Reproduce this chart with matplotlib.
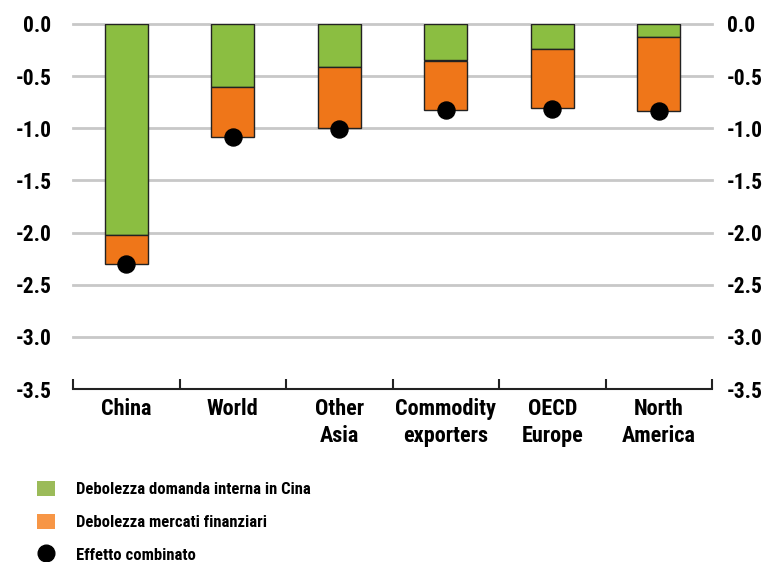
import matplotlib
matplotlib.use("Agg")
import matplotlib.pyplot as plt
from matplotlib.patches import Patch
from matplotlib.lines import Line2D
import matplotlib.transforms as mtransforms
import numpy as np
from matplotlib import font_manager

installed = {f.name for f in font_manager.fontManager.ttflist}
families = [f for f in ['Roboto Condensed', 'PT Sans Narrow', 'Liberation Sans'] if f in installed] + ['DejaVu Sans']
plt.rcParams['font.family'] = families

categories = ["China", "World", "Other\nAsia", "Commodity\nexporters", "OECD\nEurope", "North\nAmerica"]
china_demand = [-2.02, -0.60, -0.41, -0.35, -0.24, -0.12]
financial = [-0.28, -0.48, -0.59, -0.47, -0.57, -0.71]
combined = [-2.30, -1.085, -1.01, -0.825, -0.815, -0.835]
yticks = [0.0, -0.5, -1.0, -1.5, -2.0, -2.5, -3.0, -3.5]
legend_labels = ["Debolezza domanda interna in Cina", "Debolezza mercati finanziari", "Effetto combinato"]

green = "#8BBE41"
orange = "#EF7619"
leg_green = "#9BBB59"
leg_orange = "#F79646"

fig = plt.figure(figsize=(7.64, 5.62), dpi=100)
ax = fig.add_axes([73/764, 1-389/562, (712-73)/764, (389-24)/562])

x = np.arange(len(categories))
ax.bar(x, china_demand, width=0.40, color=green, edgecolor="#222222", linewidth=1.0, zorder=3)
ax.bar(x, financial, width=0.40, bottom=china_demand, color=orange, edgecolor="#222222", linewidth=1.0, zorder=3)
ax.scatter(x, combined, s=150, color="black", zorder=4)

ax.set_xlim(-0.5, len(categories)-0.5)
ax.set_ylim(-3.5, 0.0)
ax.set_yticks(yticks)
ax.set_yticklabels([f"{v:.1f}" for v in yticks], fontweight="bold")
for v in yticks[:-1]:
    ax.axhline(v, color="#C8C8C8", linewidth=2.0, zorder=1, clip_on=False)

ax2 = ax.twinx()
ax2.set_ylim(-3.5, 0.0)
ax2.set_yticks(yticks)
ax2.set_yticklabels([f"{v:.1f}" for v in yticks], fontweight="bold")

for a in (ax, ax2):
    for s in ["top", "left", "right"]:
        a.spines[s].set_visible(False)
ax2.spines["bottom"].set_visible(False)
ax.spines["bottom"].set_linewidth(1.5)
ax.spines["bottom"].set_color("#222222")

ax.tick_params(axis="y", length=0, labelsize=15.5, pad=15.5, left=False)
ax2.tick_params(axis="y", length=0, labelsize=15.5, pad=10.5, right=False)
ax.set_xticks([])
ax.set_xticks(np.arange(-0.5, len(categories)), minor=True)
ax.tick_params(axis="x", which="minor", direction="in", length=7, width=1.5, color="#222222")
offset = mtransforms.ScaledTranslation(0, -9/100, fig.dpi_scale_trans)
for i, c in enumerate(categories):
    ax.text(i, -3.5, c, ha="center", va="top", fontsize=16, fontweight="bold",
            transform=ax.transData + offset, linespacing=1.27)

handles = [Patch(facecolor=leg_green, edgecolor="none"),
           Patch(facecolor=leg_orange, edgecolor="none"),
           Line2D([], [], marker="o", linestyle="none", color="black", markersize=12)]
leg = fig.legend(handles, legend_labels, loc="upper left", bbox_to_anchor=(22/764, 1-466/562),
                 frameon=False, handlelength=1.05, handleheight=1.05, handletextpad=1.3,
                 labelspacing=0.98, prop={"size": 12, "weight": "bold", "family": families})

fig.savefig("out.png", dpi=100)
